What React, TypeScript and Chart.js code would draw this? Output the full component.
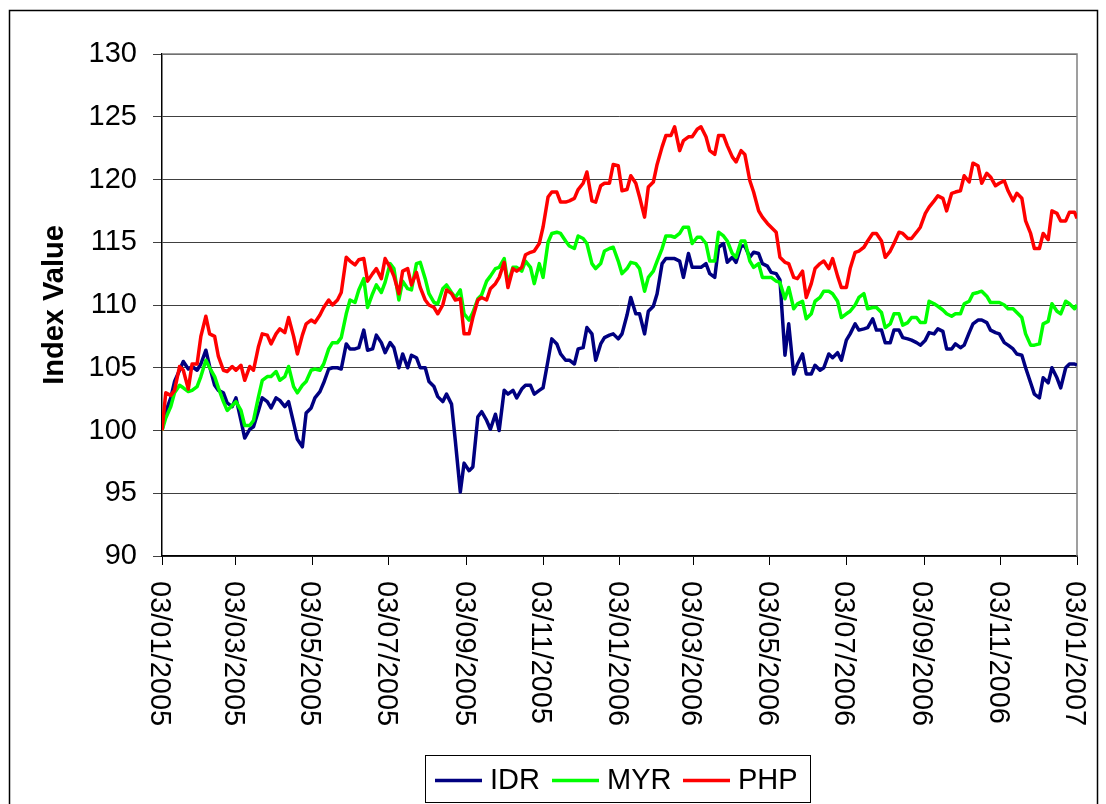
import React, { useEffect, useRef } from "react";
import { Chart, registerables } from "chart.js";

Chart.register(...registerables);

const obsDates = [
  "2005-01-03","2005-01-06","2005-01-10","2005-01-13","2005-01-17","2005-01-20","2005-01-24","2005-01-27",
  "2005-01-31","2005-02-03","2005-02-07","2005-02-10","2005-02-14","2005-02-17","2005-02-21","2005-02-24",
  "2005-02-28","2005-03-03","2005-03-07","2005-03-10","2005-03-14","2005-03-17","2005-03-21","2005-03-24",
  "2005-03-28","2005-03-31","2005-04-04","2005-04-07","2005-04-11","2005-04-14","2005-04-18","2005-04-21",
  "2005-04-25","2005-04-28","2005-05-02","2005-05-05","2005-05-09","2005-05-12","2005-05-16","2005-05-19",
  "2005-05-23","2005-05-26","2005-05-30","2005-06-02","2005-06-06","2005-06-09","2005-06-13","2005-06-16",
  "2005-06-20","2005-06-23","2005-06-27","2005-06-30","2005-07-04","2005-07-07","2005-07-11","2005-07-14",
  "2005-07-18","2005-07-21","2005-07-25","2005-07-28","2005-08-01","2005-08-04","2005-08-08","2005-08-11",
  "2005-08-15","2005-08-18","2005-08-22","2005-08-25","2005-08-29","2005-09-01","2005-09-05","2005-09-08",
  "2005-09-12","2005-09-15","2005-09-19","2005-09-22","2005-09-26","2005-09-29","2005-10-03","2005-10-06",
  "2005-10-10","2005-10-13","2005-10-17","2005-10-20","2005-10-24","2005-10-27","2005-10-31","2005-11-03",
  "2005-11-07","2005-11-10","2005-11-14","2005-11-17","2005-11-21","2005-11-24","2005-11-28","2005-12-01",
  "2005-12-05","2005-12-08","2005-12-12","2005-12-15","2005-12-19","2005-12-22","2005-12-26","2005-12-29",
  "2006-01-02","2006-01-05","2006-01-09","2006-01-12","2006-01-16","2006-01-19","2006-01-23","2006-01-26",
  "2006-01-30","2006-02-02","2006-02-06","2006-02-09","2006-02-13","2006-02-16","2006-02-20","2006-02-23",
  "2006-02-27","2006-03-02","2006-03-06","2006-03-09","2006-03-13","2006-03-16","2006-03-20","2006-03-23",
  "2006-03-27","2006-03-30","2006-04-03","2006-04-06","2006-04-10","2006-04-13","2006-04-17","2006-04-20",
  "2006-04-24","2006-04-27","2006-05-01","2006-05-04","2006-05-08","2006-05-11","2006-05-15","2006-05-18",
  "2006-05-22","2006-05-25","2006-05-29","2006-06-01","2006-06-05","2006-06-08","2006-06-12","2006-06-15",
  "2006-06-19","2006-06-22","2006-06-26","2006-06-29","2006-07-03","2006-07-06","2006-07-10","2006-07-13",
  "2006-07-17","2006-07-20","2006-07-24","2006-07-27","2006-07-31","2006-08-03","2006-08-07","2006-08-10",
  "2006-08-14","2006-08-17","2006-08-21","2006-08-24","2006-08-28","2006-08-31","2006-09-04","2006-09-07",
  "2006-09-11","2006-09-14","2006-09-18","2006-09-21","2006-09-25","2006-09-28","2006-10-02","2006-10-05",
  "2006-10-09","2006-10-12","2006-10-16","2006-10-19","2006-10-23","2006-10-26","2006-10-30","2006-11-02",
  "2006-11-06","2006-11-09","2006-11-13","2006-11-16","2006-11-20","2006-11-23","2006-11-27","2006-11-30",
  "2006-12-04","2006-12-07","2006-12-11","2006-12-14","2006-12-18","2006-12-21","2006-12-25","2006-12-28",
  "2007-01-01","2007-01-03"
];

const idrValues = [
  100, 101.5, 102.6, 103.9, 104.8, 105.5, 104.9, 105.1,
  104.8, 105.3, 106.4, 105.1, 103.6, 103.2, 103.0, 102.2,
  101.9, 102.6, 100.8, 99.4, 100.1, 100.3, 101.6, 102.6,
  102.3, 101.8, 102.6, 102.4, 101.9, 102.3, 100.6, 99.3,
  98.7, 101.4, 101.8, 102.6, 103.1, 103.8, 104.9, 105.0,
  105.0, 104.9, 106.9, 106.5, 106.5, 106.6, 108.0, 106.4,
  106.5, 107.6, 107.0, 106.2, 107.0, 106.6, 105.0, 106.1,
  105.0, 106.0, 105.8, 105.0, 105.0, 103.9, 103.5, 102.7,
  102.3, 102.9, 102.1, 99.2, 95.1, 97.4, 96.8, 97.1,
  101.1, 101.5, 100.8, 100.1, 101.3, 100.0, 103.2, 102.9,
  103.2, 102.6, 103.3, 103.6, 103.6, 102.9, 103.2, 103.4,
  105.6, 107.3, 106.9, 106.1, 105.6, 105.6, 105.3, 106.5,
  106.6, 108.2, 107.7, 105.6, 106.9, 107.4, 107.6, 107.7,
  107.3, 107.7, 109.2, 110.6, 109.3, 109.3, 107.7, 109.5,
  109.9, 110.9, 113.3, 113.7, 113.7, 113.7, 113.5, 112.2,
  114.1, 113.0, 113.0, 113.0, 113.3, 112.5, 112.2, 114.6,
  114.9, 113.4, 113.8, 113.4, 114.7, 114.7, 113.8, 114.2,
  114.1, 113.3, 113.1, 112.6, 112.5, 112.0, 106.0, 108.5,
  104.5, 105.3, 106.1, 104.5, 104.5, 105.2, 104.8, 105.0,
  106.1, 105.8, 106.2, 105.6, 107.2, 107.7, 108.5, 108.0,
  108.1, 108.2, 108.9, 108.0, 108.0, 107.0, 107.0, 108.0,
  108.0, 107.4, 107.3, 107.2, 107.0, 106.8, 107.2, 107.8,
  107.7, 108.1, 107.9, 106.5, 106.5, 106.9, 106.6, 106.8,
  107.8, 108.5, 108.8, 108.8, 108.6, 108.0, 107.8, 107.7,
  107.0, 106.8, 106.5, 106.1, 106.0, 105.0, 103.8, 102.9,
  102.6, 104.2, 103.8, 105.0, 104.2, 103.4, 105.0, 105.3,
  105.3, 105.2
];

const myrValues = [
  100, 101.0, 101.9, 103.0, 103.6, 103.4, 103.1, 103.2,
  103.5, 104.3, 105.6, 105.0, 104.3, 103.4, 102.3, 101.6,
  102.0, 102.3, 101.6, 100.4, 100.4, 100.8, 102.7, 104.0,
  104.3, 104.3, 104.7, 104.0, 104.3, 105.1, 103.5, 103.0,
  103.6, 103.9, 104.8, 104.9, 104.8, 105.3, 106.5, 107.0,
  107.0, 107.4, 109.3, 110.4, 110.2, 111.2, 112.1, 109.8,
  110.9, 111.6, 111.0, 111.8, 113.3, 112.9, 110.4, 111.9,
  111.3, 111.2, 113.3, 113.4, 112.1, 110.9, 110.2, 110.1,
  111.3, 111.6, 111.0, 110.6, 111.2, 109.3, 108.8, 109.4,
  110.5, 110.8, 111.9, 112.3, 112.9, 113.0, 113.7, 111.7,
  113.0, 113.0, 112.7, 113.5, 113.0, 111.7, 113.3, 112.2,
  115.0, 115.7, 115.8, 115.7, 115.1, 114.7, 114.5, 115.5,
  115.3, 114.9, 113.3, 112.9, 113.3, 114.3, 114.5, 114.6,
  113.5, 112.5, 112.9, 113.4, 113.3, 112.9, 111.1, 112.2,
  112.7, 113.5, 114.5, 115.5, 115.5, 115.4, 115.7, 116.2,
  116.2, 114.9, 115.4, 115.4, 114.9, 113.5, 113.5, 115.8,
  115.5, 115.1, 114.1, 113.8, 115.1, 115.1, 113.5, 113.0,
  113.3, 112.2, 112.2, 112.2, 111.9, 111.8, 110.5, 111.4,
  109.7, 110.1, 110.3, 108.9, 109.3, 110.3, 110.6, 111.1,
  111.1, 110.9, 110.3, 109.0, 109.3, 109.5, 110.0, 110.6,
  110.9, 109.7, 109.8, 109.8, 109.4, 108.2, 108.5, 109.3,
  109.3, 108.4, 108.6, 109.0, 109.0, 108.6, 108.6, 110.3,
  110.1, 109.9, 109.6, 109.3, 109.1, 109.3, 109.3, 110.1,
  110.3, 110.9, 111.0, 111.1, 110.7, 110.2, 110.2, 110.2,
  110.0, 109.7, 109.7, 109.4, 109.0, 107.7, 106.8, 106.8,
  106.9, 108.5, 108.7, 110.1, 109.5, 109.3, 110.3, 110.1,
  109.7, 110.0
];

const phpValues = [
  100, 103.0, 102.8, 103.2, 105.1, 104.8, 103.3, 105.3,
  105.3, 107.5, 109.1, 107.7, 107.5, 105.9, 104.8, 104.7,
  105.1, 104.8, 105.2, 104.0, 105.1, 104.8, 106.7, 107.7,
  107.6, 106.9, 107.7, 108.1, 107.8, 109.0, 107.5, 106.1,
  107.6, 108.5, 108.8, 108.6, 109.2, 109.8, 110.4, 110.0,
  110.4, 111.0, 113.8, 113.5, 113.2, 113.6, 113.7, 111.9,
  112.5, 112.9, 112.1, 113.7, 113.0, 112.3, 110.9, 112.7,
  112.9, 111.6, 112.6, 111.4, 110.4, 110.0, 109.8, 109.3,
  110.0, 111.2, 110.9, 110.4, 110.5, 107.7, 107.7, 109.0,
  110.4, 110.6, 110.4, 111.3, 111.7, 112.2, 113.4, 111.4,
  112.9, 112.7, 113.0, 114.0, 114.2, 114.3, 114.9, 116.2,
  118.6, 119.0, 119.0, 118.2, 118.2, 118.3, 118.5, 119.2,
  119.7, 120.6, 118.3, 118.2, 119.5, 119.7, 119.7, 121.2,
  121.1, 119.1, 119.2, 120.3, 119.7, 118.6, 117.0, 119.4,
  119.8, 121.2, 122.6, 123.5, 123.5, 124.2, 122.3, 123.1,
  123.4, 123.4, 124.0, 124.2, 123.4, 122.3, 122.0, 123.5,
  123.5, 122.7, 121.8, 121.4, 122.3, 122.0, 119.9, 119.0,
  117.5, 117.0, 116.5, 116.2, 115.8, 113.8, 113.4, 113.3,
  112.2, 112.1, 112.7, 110.6, 111.7, 112.9, 113.3, 113.5,
  112.9, 113.7, 112.3, 111.4, 111.4, 112.9, 114.2, 114.3,
  114.6, 115.1, 115.7, 115.7, 115.1, 113.8, 114.3, 114.9,
  115.8, 115.7, 115.3, 115.3, 115.8, 116.2, 117.3, 117.8,
  118.3, 118.7, 118.5, 117.5, 118.9, 119.0, 119.1, 120.3,
  119.8, 121.3, 121.1, 119.7, 120.5, 120.2, 119.5, 119.7,
  119.9, 119.1, 118.3, 118.9, 118.5, 116.7, 115.7, 114.5,
  114.5, 115.7, 115.2, 117.5, 117.3, 116.7, 116.7, 117.4,
  117.4, 116.9
];

const seriesNames = ["IDR", "MYR", "PHP"];
const seriesColors = ["#000080", "#00FF00", "#FF0000"];

const xTickLabels = [
  "03/01/2005", "03/03/2005", "03/05/2005", "03/07/2005", "03/09/2005", "03/11/2005",
  "03/01/2006", "03/03/2006", "03/05/2006", "03/07/2006", "03/09/2006", "03/11/2006", "03/01/2007"
];

const yMin = 90;
const yMax = 130;
const yStep = 5;
const yTitle = "Index Value";

const FONT = "'Liberation Sans', Arial, Helvetica, sans-serif";
const BASE = Date.UTC(2005, 0, 3);
const dayOfIso = (iso: string) => (Date.parse(iso) - BASE) / 86400000;
const dayOfLabel = (lab: string) => {
  const [d, m, y] = lab.split("/").map(Number);
  return (Date.UTC(y, m - 1, d) - BASE) / 86400000;
};

const W = 1106;
const H = 804;

const decorPlugin = {
  id: "decor",
  beforeDraw(chart: any) {
    const { ctx } = chart;
    ctx.save();
    ctx.fillStyle = "#fff";
    ctx.fillRect(0, 0, W, H);
    ctx.strokeStyle = "#000";
    ctx.lineWidth = 1.5;
    ctx.beginPath();
    ctx.moveTo(9.5, H + 10);
    ctx.lineTo(9.5, 10.5);
    ctx.lineTo(1097.5, 10.5);
    ctx.lineTo(1097.5, H + 10);
    ctx.stroke();
    ctx.restore();
  },
  beforeDatasetsDraw(chart: any) {
    const { ctx, chartArea: a } = chart;
    ctx.save();
    ctx.strokeStyle = "#808080";
    ctx.lineWidth = 1.5;
    ctx.beginPath();
    ctx.moveTo(a.left, a.top);
    ctx.lineTo(a.right, a.top);
    ctx.lineTo(a.right, a.bottom);
    ctx.stroke();
    ctx.restore();
  },
  afterDraw(chart: any) {
    const { ctx, chartArea: a } = chart;
    const xs = chart.scales.x;
    ctx.save();
    ctx.fillStyle = "#000";
    ctx.font = `29px ${FONT}`;
    ctx.textAlign = "left";
    ctx.textBaseline = "alphabetic";
    xTickLabels.forEach((lab) => {
      const px = xs.getPixelForValue(dayOfLabel(lab));
      ctx.save();
      ctx.translate(px - 11, a.bottom + 25);
      ctx.rotate(Math.PI / 2);
      ctx.fillText(lab, 0, 0);
      ctx.restore();
    });
    // legend
    ctx.strokeStyle = "#000";
    ctx.lineWidth = 1;
    ctx.strokeRect(425.5, 755.5, 385, 47);
    const lineX = [435, 552, 683];
    ctx.font = `29px ${FONT}`;
    seriesNames.forEach((name, i) => {
      ctx.strokeStyle = seriesColors[i];
      ctx.lineWidth = 3.5;
      ctx.beginPath();
      ctx.moveTo(lineX[i], 780.5);
      ctx.lineTo(lineX[i] + 47, 780.5);
      ctx.stroke();
      ctx.fillStyle = "#000";
      ctx.fillText(name, lineX[i] + 55, 788.5);
    });
    ctx.restore();
  },
};

export default function App() {
  const ref = useRef<HTMLCanvasElement>(null);
  useEffect(() => {
    if (!ref.current) return;
    const seriesValues = [idrValues, myrValues, phpValues];
    const chart = new Chart(ref.current, {
      type: "line",
      data: {
        datasets: seriesNames.map((name, i) => ({
          label: name,
          data: obsDates.map((d, k) => ({ x: dayOfIso(d), y: seriesValues[i][k] })),
          borderColor: seriesColors[i],
          backgroundColor: seriesColors[i],
          borderWidth: 3.5,
          pointRadius: 0,
          tension: 0,
          borderJoinStyle: "round" as const,
          order: 2 - i,
        })),
      },
      options: {
        animation: false,
        responsive: false,
        devicePixelRatio: 1,
        layout: { padding: { top: 54, right: 29, bottom: 0, left: 0 } },
        plugins: { legend: { display: false }, tooltip: { enabled: false } },
        scales: {
          x: {
            type: "linear",
            min: dayOfLabel(xTickLabels[0]),
            max: dayOfLabel(xTickLabels[xTickLabels.length - 1]),
            afterBuildTicks: (s: any) => {
              s.ticks = xTickLabels.map((l) => ({ value: dayOfLabel(l) }));
            },
            ticks: { display: false },
            grid: { display: true, drawOnChartArea: false, drawTicks: true, tickLength: 9, color: "#000", lineWidth: 1 },
            border: { display: true, color: "#000", width: 1.5 },
            afterFit: (s: any) => {
              s.height = H - 556;
            },
          },
          y: {
            min: yMin,
            max: yMax,
            ticks: { stepSize: yStep, color: "#000", font: { size: 29, family: FONT }, padding: 16 },
            grid: { color: "#404040", lineWidth: 1, tickLength: 9, drawTicks: true },
            border: { display: true, color: "#000", width: 1.5 },
            title: {
              display: true,
              text: yTitle,
              color: "#000",
              font: { size: 29, weight: "bold", family: FONT },
              padding: { top: 38, bottom: 0 },
            },
            afterFit: (s: any) => {
              s.width = 162;
            },
          },
        },
      },
      plugins: [decorPlugin],
    } as any);
    return () => chart.destroy();
  }, []);
  return (
    <div style={{ position: "absolute", left: 0, top: 0, width: W, height: H, background: "#fff" }}>
      <canvas ref={ref} width={W} height={H} style={{ display: "block", width: W, height: H }} />
    </div>
  );
}
